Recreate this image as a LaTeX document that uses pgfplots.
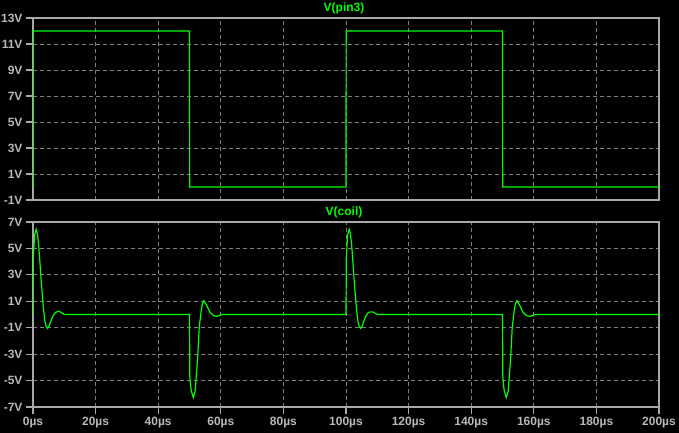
\documentclass[border=0pt]{standalone}
\usepackage{pgfplots}
\pgfplotsset{compat=1.18}
\usepackage{fontspec}
\setmainfont{Liberation Sans}
\definecolor{framec}{HTML}{A8A8A8}
\definecolor{gridc}{HTML}{808080}
\definecolor{trace}{HTML}{00FF00}
\definecolor{lbl}{HTML}{B8B8B8}
\pgfplotsset{ltsp/.style={
  scale only axis, width=626pt, anchor=south west,
  xmin=0, xmax=200, clip mode=individual,
  axis line style={draw=framec, line width=1.2pt},
  tick style={draw=framec, line width=1.2pt},
  tick align=outside, tick pos=left, major tick length=7pt,
  grid=major,
  major grid style={draw=gridc, line width=0.9pt, dash pattern=on 4pt off 3pt},
  xtick={0,20,...,200},
  ticklabel style={font=\bfseries\fontsize{12}{14}\selectfont, text=lbl},
}}
\tikzset{tr/.style={draw=trace, line width=1.2pt, mark=none}}
\begin{document}
\begin{tikzpicture}
\fill[black] (0pt,0pt) rectangle (679pt,433pt);
\begin{axis}[ltsp, at={(33pt,233pt)}, height=182pt,
  ymin=-1, ymax=13, ytick={-1,1,...,13},
  yticklabels={-1V,1V,3V,5V,7V,9V,11V,13V},
  xticklabels={}, xtick style={draw=none}]
\addplot[tr] coordinates {(0,0)(0.05,12)(50,12)(50.05,0)(100,0)(100.05,12)(150,12)(150.05,0)(200,0)};
\node[text=trace, font=\bfseries\fontsize{12}{14}\selectfont] at (rel axis cs:0.5,1) [yshift=9.5pt, xshift=-2pt] {V(pin3)};
\end{axis}
\begin{axis}[ltsp, at={(33pt,26pt)}, height=185pt,
  ymin=-7, ymax=7, ytick={-7,-5,...,7},
  yticklabels={-7V,-5V,-3V,-1V,1V,3V,5V,7V},
  xticklabels={0µs,20µs,40µs,60µs,80µs,100µs,120µs,140µs,160µs,180µs,200µs}]
\addplot[tr] coordinates {
(0,0)(0.1,4.3)(0.5,6.0)(1.0,6.45)(1.4,6.1)(1.8,5.3)(2.2,4.0)(2.6,2.6)(3.0,1.4)(3.4,0.3)(3.8,-0.5)(4.2,-0.9)(4.7,-1.05)(5.2,-0.85)(5.7,-0.5)(6.2,-0.2)(6.7,0.02)(7.2,0.15)(7.8,0.22)(8.4,0.23)(9.0,0.15)(9.6,0.05)(10.2,0)
(50,0)
(50.1,-4.7)(50.5,-5.7)(51.2,-6.28)(51.8,-5.8)(52.3,-4.3)(52.7,-2.9)(53.1,-1.0)(53.6,0.05)(54.1,0.8)(54.6,1.04)(55.5,0.69)(56.5,0.18)(57.6,-0.07)(58.7,-0.15)(59.8,-0.05)(60.3,0)
(100,0)
(100.1,4.3)(100.5,6.0)(101.0,6.45)(101.4,6.1)(101.8,5.3)(102.2,4.0)(102.6,2.6)(103.0,1.4)(103.4,0.3)(103.8,-0.5)(104.2,-0.9)(104.7,-1.05)(105.2,-0.85)(105.7,-0.5)(106.2,-0.2)(106.7,0.02)(107.2,0.15)(107.8,0.2)(108.5,0.2)(109.1,0.12)(109.7,0.04)(110.4,0)
(150,0)
(150.1,-4.7)(150.5,-5.7)(151.2,-6.28)(151.8,-5.8)(152.3,-4.3)(152.7,-2.9)(153.1,-1.0)(153.6,0.05)(154.1,0.8)(154.6,1.04)(155.5,0.69)(156.5,0.18)(157.6,-0.07)(158.7,-0.15)(159.8,-0.05)(160.3,0)
(200,0)};
\node[text=trace, font=\bfseries\fontsize{12}{14}\selectfont] at (rel axis cs:0.5,1) [yshift=10pt, xshift=-2pt] {V(coil)};
\end{axis}
\pgfresetboundingbox
\useasboundingbox (0pt,0pt) rectangle (679pt,433pt);
\end{tikzpicture}
\end{document}
